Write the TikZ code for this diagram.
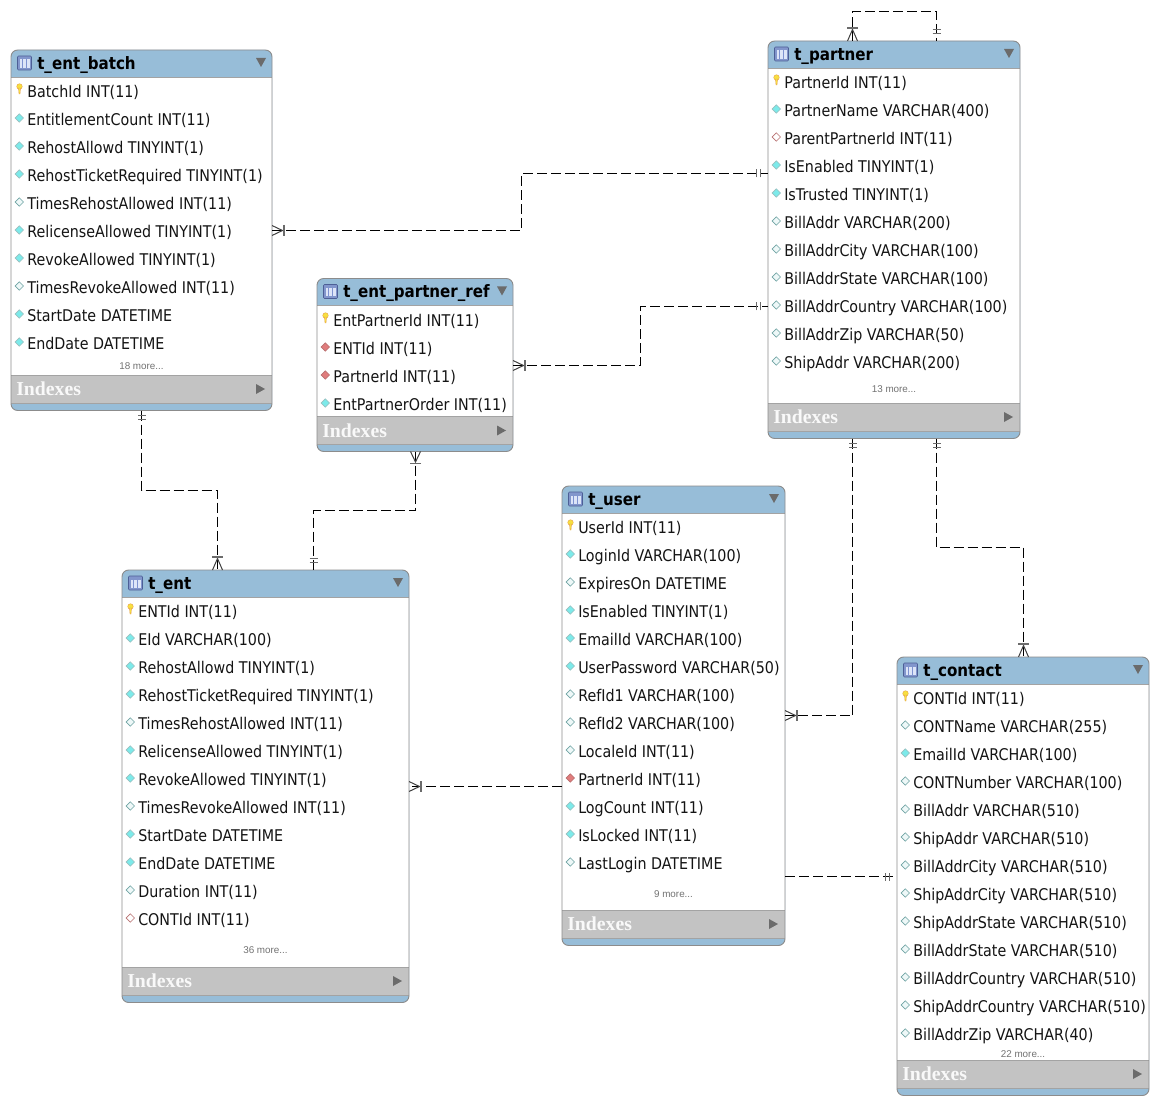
\documentclass[tikz,border=0pt]{standalone}
\usepackage{fontspec}
\setmainfont{DejaVu Sans}[FakeStretch=0.885]
\newfontfamily\idxfont{Liberation Serif}[BoldFont={Liberation Serif Bold}]
\newfontfamily\morefont{Liberation Sans}
\usetikzlibrary{calc}
\definecolor{hdrblue}{HTML}{97BDD8}
\definecolor{idxgray}{HTML}{C3C3C3}
\definecolor{edgegray}{HTML}{8C8C8C}
\definecolor{markgray}{HTML}{6B6B6B}
\definecolor{cyanfill}{HTML}{7CEAEA}
\definecolor{tealedge}{HTML}{6FA3A3}
\definecolor{nullfill}{HTML}{EEF8F8}
\definecolor{redfill}{HTML}{E07C7C}
\definecolor{rededge}{HTML}{B87070}
\definecolor{keyfill}{HTML}{F7E040}
\definecolor{iconfill}{HTML}{8296CC}
\definecolor{iconedge}{HTML}{4D5F96}
\definecolor{iconbody}{HTML}{DDE5F8}
\definecolor{iconline}{HTML}{7E92D0}
\tikzset{
  x=0.75pt,y=-0.75pt,
  tablebox/.style={draw=edgegray,line width=0.7pt,rounded corners=5pt,inner sep=0,outer sep=0,anchor=north west},
  rowtext/.style={anchor=base west,inner sep=0,font=\fontsize{12.1pt}{14pt}\selectfont,text=black!92},
  titletext/.style={anchor=base west,inner sep=0,font=\fontsize{12.8pt}{14pt}\selectfont\bfseries,text=black},
  idxtext/.style={anchor=base west,inner sep=0,font=\idxfont\fontsize{14.8pt}{16pt}\selectfont\bfseries,text=white!95!gray},
  moretext/.style={anchor=base,inner sep=0,font=\morefont\fontsize{7.4pt}{8pt}\selectfont,text=black!55},
  rel/.style={draw=black,line width=0.75pt,dash pattern=on 7.5pt off 3pt},
  relmark/.style={draw=black!75,line width=0.75pt},
  nn/.style={fill=cyanfill,draw=tealedge!70},
  nl/.style={fill=nullfill,draw=tealedge},
  fk/.style={fill=redfill,draw=rededge},
  fn/.style={fill=white,draw=rededge},
}
\newcommand\tbl[6]{%
  \def\tname{#1}\def\xa{#2}\def\ya{#3}\def\xb{#4}\def\yb{#5}\def\ttitle{#6}}
\newcommand\tblbody[4]{% titleBottom idxTop moreBaseline text
  \pgfmathsetmacro\ww{(\xb-\xa)*0.75}\pgfmathsetmacro\hh{(\yb-\ya)*0.75}
  \fill[hdrblue,rounded corners=5pt] (\xa,\ya) rectangle (\xb,\yb);
  \fill[white] (\xa,#1) rectangle (\xb,#2);
  \fill[idxgray] (\xa,#2) rectangle (\xb,{#2+28});
  \draw[edgegray!80,line width=0.5pt] (\xa,#1) -- (\xb,#1) (\xa,#2) -- (\xb,#2) (\xa,{#2+28}) -- (\xb,{#2+28});
  \node[tablebox,minimum width=\ww pt,minimum height=\hh pt] (\tname) at (\xa,\ya) {};
  \fill[iconfill,draw=iconedge,line width=0.4pt,rounded corners=0.8pt] ({\xa+6.5},{\ya+6}) rectangle ({\xa+20.5},{\ya+20});
  \fill[iconbody] ({\xa+8.5},{\ya+9.5}) rectangle ({\xa+18.5},{\ya+18});
  \draw[iconline,line width=0.4pt] ({\xa+11.7},{\ya+9.5}) -- ({\xa+11.7},{\ya+18}) ({\xa+15.2},{\ya+9.5}) -- ({\xa+15.2},{\ya+18});
  \node[titletext] (\tname-title) at ({\xa+26},{\ya+19.5}) {\ttitle};
  \fill[markgray] ({\xb-16},{\ya+8}) -- ({\xb-6},{\ya+8}) -- ({\xb-11},{\ya+17}) -- cycle;
  \node[idxtext] (\tname-idx) at ({\xa+5},{#2+20.5}) {Indexes};
  \fill[markgray] ({\xb-16},{#2+9}) -- ({\xb-7},{#2+14}) -- ({\xb-16},{#2+19}) -- cycle;
  \node[moretext] (\tname-more) at ({(\xa+\xb)/2},{#3}) {#4};
}
\newcommand\rowlist[2]{%
  \foreach \k/\t [count=\i from 0] in {#2}{%
    \pgfmathsetmacro\ry{#1+28*\i}
    \def\pk{pk}
    \ifx\k\pk
      \fill[keyfill,draw=orange!50!brown!80,line width=0.25pt] ({\xa+8.5},{\ry-4.5}) circle[radius=2.8];
      \fill[keyfill,draw=orange!50!brown!80,line width=0.25pt] ({\xa+7.5},{\ry-3}) -- ({\xa+9.5},{\ry-3}) -- ({\xa+9},{\ry+3}) -- ({\xa+8},{\ry+3}) -- cycle;
    \else
      \path[\k,line width=0.5pt] ({\xa+12.5},{\ry-1}) -- ++(-4.2,4.2) -- ++(-4.2,-4.2) -- ++(4.2,-4.2) -- cycle;
    \fi
    \node[rowtext] (\tname-r\i) at ({\xa+16},{\ry+6.5}) {\t};
  }%
}
% crow's foot with its bar: #1 distance of the bar, #2 point, #3 angle
\newcommand\crowbar[3][12]{\begin{scope}[shift={(#2)},rotate=#3]
  \draw[relmark] (0,-5) -- (#1-1.5,0) -- (0,5);
  \draw[draw=markgray,line width=1.3pt] (#1,-5.5) -- (#1,5.5);
\end{scope}}
% two short bars: #1 nearer distance, #2 point, #3 angle
\newcommand\twobars[3][7.5]{\begin{scope}[shift={(#2)},rotate=#3]
  \draw[draw=markgray,line width=0.9pt] (#1,-4) -- (#1,4) (#1+4,-4) -- (#1+4,4);
\end{scope}}
\begin{document}
\begin{tikzpicture}
\useasboundingbox[fill=white] (0,0) rectangle (1159,1105);

\tbl{batch}{11}{50}{272}{410.5}{t\_ent\_batch}
\tblbody{77}{375}{369}{18 more...}
\rowlist{91}{pk/BatchId INT(11),nn/EntitlementCount INT(11),nn/RehostAllowd TINYINT(1),nn/RehostTicketRequired TINYINT(1),nl/TimesRehostAllowed INT(11),nn/RelicenseAllowed TINYINT(1),nn/RevokeAllowed TINYINT(1),nl/TimesRevokeAllowed INT(11),nn/StartDate DATETIME,nn/EndDate DATETIME}

\tbl{ref}{317}{278.5}{513}{451.5}{t\_ent\_partner\_ref}
\tblbody{305}{416.5}{0}{}
\rowlist{320}{pk/EntPartnerId INT(11),fk/ENTId INT(11),fk/PartnerId INT(11),nn/EntPartnerOrder INT(11)}

\tbl{partner}{768}{41}{1020}{438.5}{t\_partner}
\tblbody{68}{403}{392}{13 more...}
\rowlist{82}{pk/PartnerId INT(11),nn/PartnerName VARCHAR(400),fn/ParentPartnerId INT(11),nn/IsEnabled TINYINT(1),nn/IsTrusted TINYINT(1),nl/BillAddr VARCHAR(200),nl/BillAddrCity VARCHAR(100),nl/BillAddrState VARCHAR(100),nl/BillAddrCountry VARCHAR(100),nl/BillAddrZip VARCHAR(50),nl/ShipAddr VARCHAR(200)}

\tbl{user}{562}{486}{785}{945.5}{t\_user}
\tblbody{513}{910}{897}{9 more...}
\rowlist{527}{pk/UserId INT(11),nn/LoginId VARCHAR(100),nl/ExpiresOn DATETIME,nn/IsEnabled TINYINT(1),nn/EmailId VARCHAR(100),nn/UserPassword VARCHAR(50),nl/RefId1 VARCHAR(100),nl/RefId2 VARCHAR(100),nl/LocaleId INT(11),fk/PartnerId INT(11),nn/LogCount INT(11),nn/IsLocked INT(11),nl/LastLogin DATETIME}

\tbl{ent}{122}{570}{409}{1002.5}{t\_ent}
\tblbody{597}{967}{953}{36 more...}
\rowlist{611}{pk/ENTId INT(11),nn/EId VARCHAR(100),nn/RehostAllowd TINYINT(1),nn/RehostTicketRequired TINYINT(1),nl/TimesRehostAllowed INT(11),nn/RelicenseAllowed TINYINT(1),nn/RevokeAllowed TINYINT(1),nl/TimesRevokeAllowed INT(11),nn/StartDate DATETIME,nn/EndDate DATETIME,nl/Duration INT(11),fn/CONTId INT(11)}

\tbl{contact}{897}{657}{1149}{1095.5}{t\_contact}
\tblbody{684}{1060}{1057}{22 more...}
\rowlist{698}{pk/CONTId INT(11),nl/CONTName VARCHAR(255),nn/EmailId VARCHAR(100),nl/CONTNumber VARCHAR(100),nl/BillAddr VARCHAR(510),nl/ShipAddr VARCHAR(510),nl/BillAddrCity VARCHAR(510),nl/ShipAddrCity VARCHAR(510),nl/ShipAddrState VARCHAR(510),nl/BillAddrState VARCHAR(510),nl/BillAddrCountry VARCHAR(510),nl/ShipAddrCountry VARCHAR(510),nl/BillAddrZip VARCHAR(40)}

\coordinate (batchR) at (batch.east |- 0,230.5);
\coordinate (partnerL1) at (partner.west |- 0,173.5);
\coordinate (refR) at (ref.east |- 0,365.5);
\coordinate (partnerL2) at (partner.west |- 0,306.5);
\coordinate (batchB) at (141.5,0 |- batch.south);
\coordinate (entT1) at (217.5,0 |- ent.north);
\coordinate (refB) at (415.5,0 |- ref.south);
\coordinate (entT2) at (313.5,0 |- ent.north);
\coordinate (partnerB1) at (852.5,0 |- partner.south);
\coordinate (userR1) at (user.east |- 0,715.5);
\coordinate (partnerB2) at (936.5,0 |- partner.south);
\coordinate (contactT) at (1023.5,0 |- contact.north);
\coordinate (userL) at (user.west |- 0,786.5);
\coordinate (entR) at (ent.east |- 0,786.5);
\coordinate (userR2) at (user.east |- 0,876.5);
\coordinate (contactL) at (contact.west |- 0,876.5);
\coordinate (partnerT1) at (852.5,0 |- partner.north);
\coordinate (partnerT2) at (936.5,0 |- partner.north);

\draw[rel] (batchR) -| (521.5,173.5) -- (partnerL1);
\draw[rel] (refR) -| (640.5,306.5) -- (partnerL2);
\draw[rel] (batchB) |- (217.5,490.5) -- (entT1);
\draw[rel] (refB) |- (313.5,510.5) -- (entT2);
\draw[rel] (partnerB1) |- (userR1);
\draw[rel] (partnerB2) |- (1023.5,547.5) -- (contactT);
\draw[rel] (userL) -- (entR);
\draw[rel] (userR2) -- (contactL);
\draw[rel] (partnerT1) |- (936.5,11.5) -- (partnerT2);

\crowbar{batchR}{0}
\twobars{partnerL1}{180}
\crowbar{refR}{0}
\twobars{partnerL2}{180}
\twobars[5]{batchB}{-90}
\crowbar[13]{entT1}{90}
\crowbar{refB}{-90}
\twobars{entT2}{90}
\twobars[5]{partnerB1}{-90}
\crowbar{userR1}{0}
\twobars[5]{partnerB2}{-90}
\crowbar[13]{contactT}{90}
\crowbar{entR}{0}
\twobars{contactL}{180}
\crowbar[13]{partnerT1}{90}
\twobars{partnerT2}{90}
\end{tikzpicture}
\end{document}
